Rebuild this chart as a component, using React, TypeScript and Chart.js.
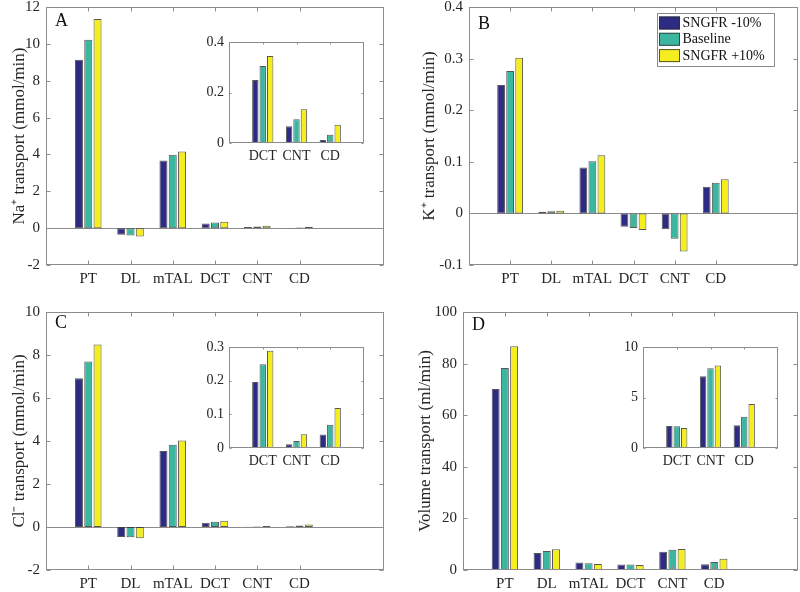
import React, { useEffect, useRef } from 'react';
import { Chart, registerables } from 'chart.js';

Chart.register(...registerables);

const FONT = "'Liberation Serif', 'Times New Roman', Times, serif";
const TEXT = '#262626';
const AXIS = '#8c8c8c';
const EDGE = 'rgba(45,45,45,0.8)';

// ---- data ----
const categories = ['PT', 'DL', 'mTAL', 'DCT', 'CNT', 'CD'];
const seriesLabels = ['SNGFR -10%', 'Baseline', 'SNGFR +10%'];
const seriesColors = ['#2e2b82', '#3cb79f', '#f4ee1f'];

const naLow = [9.14, -0.36, 3.67, 0.25, 0.066, 0.012];
const naBase = [10.22, -0.4, 3.98, 0.305, 0.094, 0.033];
const naHigh = [11.35, -0.45, 4.16, 0.345, 0.134, 0.072];

const kLow = [0.249, 0.003, 0.089, -0.026, -0.0305, 0.0517];
const kBase = [0.276, 0.004, 0.101, -0.0285, -0.049, 0.0595];
const kHigh = [0.3016, 0.005, 0.1126, -0.032, -0.074, 0.066];

const clLow = [6.92, -0.46, 3.54, 0.196, 0.011, 0.04];
const clBase = [7.7, -0.48, 3.82, 0.249, 0.021, 0.069];
const clHigh = [8.49, -0.52, 4.02, 0.289, 0.041, 0.119];

const volLow = [70.2, 6.6, 2.95, 2.18, 7.1, 2.25];
const volBase = [78.3, 7.4, 2.57, 2.15, 7.89, 3.1];
const volHigh = [86.7, 8.0, 2.3, 1.98, 8.16, 4.36];

const naTicks = [-2, 0, 2, 4, 6, 8, 10, 12];
const kTicks = [-0.1, 0, 0.1, 0.2, 0.3, 0.4];
const clTicks = [-2, 0, 2, 4, 6, 8, 10];
const volTicks = [0, 20, 40, 60, 80, 100];
const naInsetTicks = [0, 0.2, 0.4];
const clInsetTicks = [0, 0.1, 0.2, 0.3];
const volInsetTicks = [0, 5, 10];

const insetStart = 3; // inset shows DCT, CNT, CD

type Spec = {
  values: number[][];
  cats: string[];
  firstX: number;
  xMin: number;
  xMax: number;
  yTicks: number[];
  yTitle?: string;
  titlePad?: number;
  leftW: number;
  bottomH: number;
  padTop: number;
  padRight: number;
  tickFont: number;
  tickLen: number;
  yPad: number;
  xPad: number;
  letter?: { text: string; dx: number; dy: number };
  legend?: { x: number; y: number; w: number; h: number };
  box: { left: number; top: number; w: number; h: number };
};

function buildConfig(p: Spec): any {
  const datasets = seriesLabels.map((label, s) => ({
    label,
    data: p.cats.map((_, i) => ({ x: p.firstX + i, y: p.values[s][i] })),
    backgroundColor: seriesColors[s],
    borderColor: EDGE,
    borderWidth: 1,
    borderSkipped: false,
    categoryPercentage: 0.66,
    barPercentage: 0.86,
  }));

  const framePlugin = {
    id: 'matlabFrame',
    beforeDatasetsDraw(chart: any) {
      const { ctx, chartArea: a, scales } = chart;
      const y = scales.y;
      if (y.min < 0) {
        const py = Math.round(y.getPixelForValue(0)) + 0.5;
        ctx.save();
        ctx.strokeStyle = AXIS;
        ctx.lineWidth = 1;
        ctx.beginPath();
        ctx.moveTo(a.left, py);
        ctx.lineTo(a.right, py);
        ctx.stroke();
        ctx.restore();
      }
    },
    afterDatasetsDraw(chart: any) {
      const { ctx, chartArea: a, scales } = chart;
      const x = scales.x;
      const y = scales.y;
      const L = Math.round(a.left) + 0.5;
      const R = Math.round(a.right) - 0.5;
      const T = Math.round(a.top) + 0.5;
      const B = Math.round(a.bottom) - 0.5;
      ctx.save();
      ctx.strokeStyle = AXIS;
      ctx.lineWidth = 1;
      ctx.strokeRect(L, T, R - L, B - T);
      ctx.beginPath();
      y.ticks.forEach((t: any) => {
        const py = Math.round(y.getPixelForValue(t.value)) + 0.5;
        ctx.moveTo(L, py);
        ctx.lineTo(L + p.tickLen, py);
        ctx.moveTo(R, py);
        ctx.lineTo(R - p.tickLen, py);
      });
      x.ticks.forEach((t: any) => {
        const px = Math.round(x.getPixelForValue(t.value)) + 0.5;
        ctx.moveTo(px, B);
        ctx.lineTo(px, B - p.tickLen);
        ctx.moveTo(px, T);
        ctx.lineTo(px, T + p.tickLen);
      });
      ctx.stroke();

      if (p.letter) {
        ctx.fillStyle = '#111';
        ctx.font = `18px ${FONT}`;
        ctx.textAlign = 'left';
        ctx.textBaseline = 'alphabetic';
        ctx.fillText(p.letter.text, a.left + p.letter.dx, a.top + p.letter.dy);
      }

      if (p.legend) {
        const lg = p.legend;
        ctx.fillStyle = '#ffffff';
        ctx.fillRect(lg.x, lg.y, lg.w, lg.h);
        ctx.strokeStyle = AXIS;
        ctx.strokeRect(Math.round(lg.x) + 0.5, Math.round(lg.y) + 0.5, Math.round(lg.w), Math.round(lg.h));
        chart.data.datasets.forEach((ds: any, i: number) => {
          const sy = lg.y + 3.5 + i * 16.3;
          ctx.fillStyle = ds.backgroundColor;
          ctx.fillRect(lg.x + 2, sy, 21, 13);
          ctx.strokeStyle = EDGE;
          ctx.strokeRect(lg.x + 2.5, sy + 0.5, 20, 12);
          ctx.fillStyle = '#111';
          ctx.font = `14px ${FONT}`;
          ctx.textAlign = 'left';
          ctx.textBaseline = 'middle';
          ctx.fillText(ds.label, lg.x + 25.5, sy + 7);
        });
      }
      ctx.restore();
    },
  };

  return {
    type: 'bar',
    data: { datasets },
    plugins: [framePlugin],
    options: {
      animation: false,
      responsive: false,
      events: [],
      layout: { padding: { top: p.padTop, right: p.padRight, left: 0, bottom: 0 } },
      plugins: { legend: { display: false }, tooltip: { enabled: false } },
      scales: {
        x: {
          type: 'linear',
          min: p.xMin,
          max: p.xMax,
          offset: false,
          grid: { display: false, drawTicks: false },
          border: { display: false },
          afterBuildTicks: (s: any) => {
            s.ticks = p.cats.map((_, i) => ({ value: p.firstX + i }));
          },
          afterFit: (s: any) => {
            s.height = p.bottomH;
            s.paddingLeft = 0;
            s.paddingRight = 0;
          },
          ticks: {
            autoSkip: false,
            maxRotation: 0,
            padding: p.xPad,
            color: TEXT,
            font: { family: FONT, size: p.tickFont },
            callback: (v: number) => p.cats[Math.round(v - p.firstX)] ?? '',
          },
        },
        y: {
          type: 'linear',
          min: p.yTicks[0],
          max: p.yTicks[p.yTicks.length - 1],
          grid: { display: false, drawTicks: false },
          border: { display: false },
          afterBuildTicks: (s: any) => {
            s.ticks = p.yTicks.map((v) => ({ value: v }));
          },
          afterFit: (s: any) => {
            s.width = p.leftW;
            s.paddingTop = 0;
            s.paddingBottom = 0;
          },
          ticks: {
            padding: p.yPad,
            color: TEXT,
            font: { family: FONT, size: p.tickFont },
            callback: (v: number) => String(v),
          },
          title: p.yTitle
            ? {
                display: true,
                text: p.yTitle,
                color: TEXT,
                font: { family: FONT, size: 17 },
                padding: { top: p.titlePad ?? 0, bottom: 0 },
              }
            : { display: false },
        },
      },
    },
  };
}

function Panel({ spec }: { spec: Spec }) {
  const ref = useRef<HTMLCanvasElement>(null);
  useEffect(() => {
    const chart = new Chart(ref.current as HTMLCanvasElement, buildConfig(spec));
    return () => chart.destroy();
  }, []);
  const b = spec.box;
  return (
    <canvas
      ref={ref}
      width={b.w}
      height={b.h}
      style={{ position: 'absolute', left: b.left, top: b.top, width: b.w, height: b.h }}
    />
  );
}

const mainBase = { cats: categories, firstX: 1, xMin: 0, xMax: 8, tickFont: 15, tickLen: 4, yPad: 6, xPad: 5 };
const insetCats = categories.slice(insetStart);
const insetBase = {
  cats: insetCats,
  firstX: insetStart + 1,
  xMin: insetStart,
  xMax: insetStart + 4,
  tickFont: 14,
  tickLen: 2,
  yPad: 5,
  xPad: 5,
  leftW: 39,
  bottomH: 27,
  padTop: 12,
  padRight: 8,
};
const sl = (a: number[]) => a.slice(insetStart);

const specs: Spec[] = [
  {
    ...mainBase,
    values: [naLow, naBase, naHigh],
    yTicks: naTicks,
    yTitle: 'Na\u207A transport (mmol/min)',
    titlePad: 9,
    leftW: 46,
    bottomH: 31,
    padTop: 7,
    padRight: 16,
    letter: { text: 'A', dx: 9, dy: 19 },
    box: { left: 0, top: 0, w: 400, h: 296 },
  },
  {
    ...mainBase,
    values: [kLow, kBase, kHigh],
    yTicks: kTicks,
    yTitle: 'K\u207A transport (mmol/min)',
    titlePad: 19,
    leftW: 69,
    bottomH: 31,
    padTop: 7,
    padRight: 2,
    letter: { text: 'B', dx: 9, dy: 22 },
    legend: { x: 257, y: 13, w: 117, h: 53 },
    box: { left: 400, top: 0, w: 400, h: 296 },
  },
  {
    ...mainBase,
    values: [clLow, clBase, clHigh],
    yTicks: clTicks,
    yTitle: 'Cl\u207B transport (mmol/min)',
    titlePad: 9,
    leftW: 46,
    bottomH: 22,
    padTop: 16,
    padRight: 16,
    letter: { text: 'C', dx: 9, dy: 16 },
    box: { left: 0, top: 296, w: 400, h: 296 },
  },
  {
    ...mainBase,
    values: [volLow, volBase, volHigh],
    yTicks: volTicks,
    yTitle: 'Volume transport (ml/min)',
    titlePad: 15.5,
    leftW: 63,
    bottomH: 22,
    padTop: 16,
    padRight: 2,
    letter: { text: 'D', dx: 9, dy: 18 },
    box: { left: 400, top: 296, w: 400, h: 296 },
  },
  {
    ...insetBase,
    values: [sl(naLow), sl(naBase), sl(naHigh)],
    yTicks: naInsetTicks,
    box: { left: 190, top: 30, w: 182, h: 140 },
  },
  {
    ...insetBase,
    values: [sl(clLow), sl(clBase), sl(clHigh)],
    yTicks: clInsetTicks,
    box: { left: 190, top: 335, w: 182, h: 140 },
  },
  {
    ...insetBase,
    values: [sl(volLow), sl(volBase), sl(volHigh)],
    yTicks: volInsetTicks,
    box: { left: 604, top: 335, w: 182, h: 140 },
  },
];

export default function App() {
  return (
    <div
      style={{
        position: 'absolute',
        left: 0,
        top: 0,
        width: 800,
        height: 592,
        background: '#ffffff',
        overflow: 'hidden',
      }}
    >
      {specs.map((s, i) => (
        <Panel key={i} spec={s} />
      ))}
    </div>
  );
}
